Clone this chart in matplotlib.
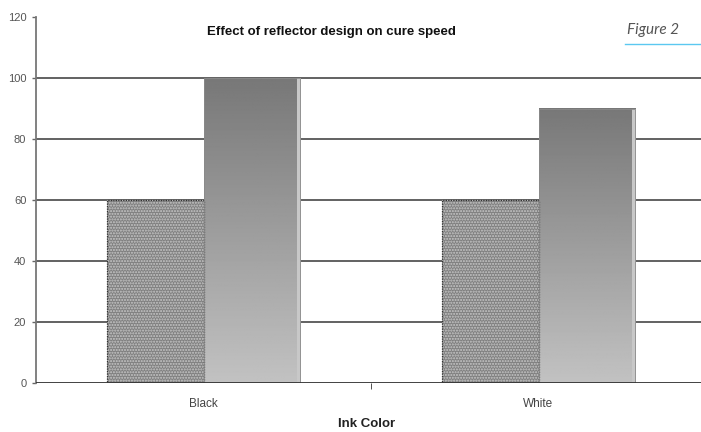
import matplotlib
matplotlib.use("Agg")
import matplotlib.pyplot as plt
import numpy as np
from matplotlib.lines import Line2D

categories = ["Black", "White"]
standard_vals = [60, 60]
reflector_vals = [100, 90]
yticks = [0, 20, 40, 60, 80, 100, 120]

plt.rcParams["font.family"] = ["Liberation Sans", "DejaVu Sans"]

fig = plt.figure(figsize=(7.01, 4.32), dpi=100)
ax = fig.add_axes([36 / 701, (432 - 383) / 432, 670 / 701, 366 / 432])

x = np.arange(len(categories))
w = 0.287

# hatched bars (hatch colour comes from edgecolor, so outline separately)
ax.bar(x - w / 2, standard_vals, width=w, facecolor="#808080", edgecolor="#c8c8c8",
       hatch="......", linewidth=0, zorder=3)
ax.bar(x - w / 2, standard_vals, width=w, facecolor="none", edgecolor="#333333",
       linewidth=0.9, linestyle=(0, (1, 1)), zorder=4)

# gradient bars
grad = np.linspace(0.76, 0.47, 256).reshape(-1, 1)
for xi, v in zip(x, reflector_vals):
    left = xi
    ax.imshow(grad, cmap="gray", vmin=0, vmax=1, aspect="auto",
              extent=(left, left + w, 0, v), origin="lower", zorder=3)
    ax.bar(left + w - 0.008, v, width=0.012, align="edge", color="#c8c8c8",
           linewidth=0, zorder=4)
    ax.bar(left, v, width=w, align="edge", facecolor="none", edgecolor="#8a8a8a",
           linewidth=0.6, zorder=4)

ax.set_xlim(-0.5, 1.5)
ax.set_ylim(0, 120)
ax.set_yticks(yticks)
ax.set_yticklabels([str(t) for t in yticks], fontsize=8, color="#555555")
for t in yticks[1:-1]:
    ax.axhline(t, color="#555555", linewidth=1.3, zorder=1)
ax.axhline(0, color="#333333", linewidth=1.3, zorder=5)

ax.set_xticks([0.5], minor=True)
ax.set_xticks(x)
ax.set_xticklabels(categories, fontsize=8.5, color="#444444")
ax.tick_params(axis="x", which="major", length=0, pad=11)
ax.tick_params(axis="x", which="minor", length=4, direction="out", color="#333333")
ax.tick_params(axis="y", length=3, color="#666666", width=1, pad=4)

for s in ["top", "right", "bottom"]:
    ax.spines[s].set_visible(False)
ax.spines["left"].set_color("#777777")
ax.spines["left"].set_linewidth(1.3)

ax.set_xlabel("Ink Color", fontsize=9.5, fontweight="bold", color="#222222")
ax.xaxis.label.set_va("center")
ax.xaxis.set_label_coords((367 - 36) / 670, -(424 - 383) / 366)

fig.text(331 / 701, 1 - 32 / 432, "Effect of reflector design on cure speed",
         fontsize=9.5, fontweight="bold", ha="center", va="center", color="#111111")
fig.text(627 / 701, 1 - 30 / 432, "Figure 2", fontsize=11, style="italic",
         family="Lato", ha="left", va="center", color="#555555")
fig.add_artist(Line2D([625 / 701, 1.0], [1 - 44 / 432, 1 - 44 / 432],
                      color="#5bc8f0", linewidth=1))

fig.savefig("out.png", dpi=100)
